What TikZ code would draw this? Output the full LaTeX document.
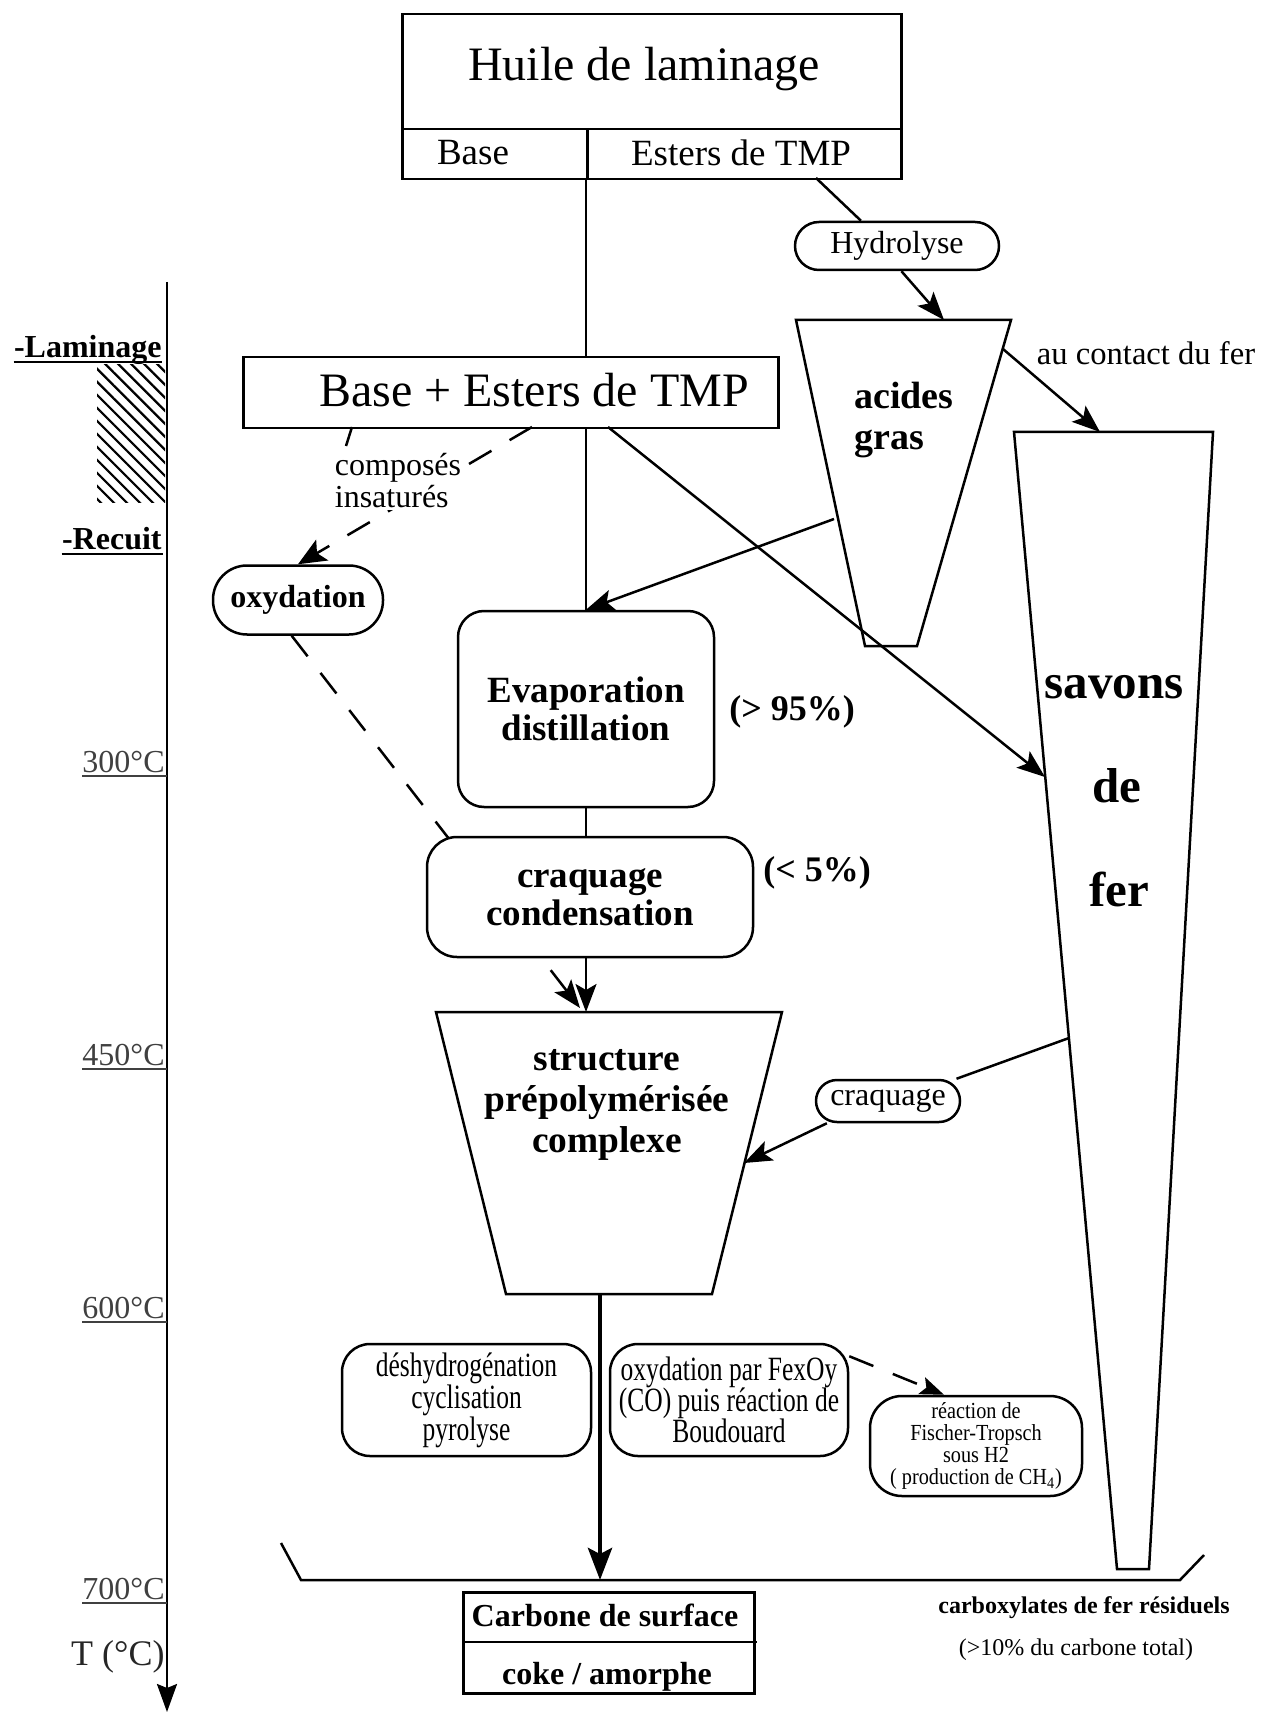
\documentclass[tikz,border=0pt]{standalone}
\usepackage{fontspec}
\setmainfont{Liberation Serif}
\newfontfamily\condfont{Liberation Serif}[FakeStretch=0.75]
\newfontfamily\condfontb{Liberation Serif}[FakeStretch=0.88]
\usetikzlibrary{arrows.meta,calc,patterns.meta}
\newcommand{\myfs}[2]{\fontsize{#1}{#2}\selectfont}
\begin{document}
\begin{tikzpicture}[x=0.5pt,y=-0.5pt,
  ln/.style={line width=1.25pt},
  arr/.style={ln,-{Stealth[length=14pt,width=10.5pt,inset=3pt]}},
  dsh/.style={ln,dash pattern=on 13pt off 10.5pt},
  bx/.style={draw,ln,fill=white,inner sep=0pt,rectangle},
  tlab/.style={font=\myfs{16}{18},text=black!75,inner sep=0pt},
  ulab/.style={font=\bfseries\myfs{16}{18},inner sep=0pt},
  sav/.style={font=\bfseries\myfs{24.5}{26}},
  pct/.style={font=\bfseries\myfs{18}{20}}
]
\useasboundingbox (0,0) rectangle (1260,1716);

% ---------- temperature axis ----------
\coordinate (axtop) at (167,282);
\coordinate (axbot) at (167,1712);
\draw[ln,-{Stealth[length=14pt,width=10pt,inset=2pt]}] (axtop) -- (axbot);
\fill[pattern={Lines[angle=-45,distance=4.6pt,line width=1.1pt]}] (97,365) rectangle (165,503);

\node[ulab,anchor=base east] (lam) at (162,358) {-Laminage};
\draw[line width=1pt] ($(lam.base west)+(0,4)$) -- ($(lam.base east)+(0,4)$);
\node[ulab,anchor=base east] (rec) at (162,550) {-Recuit};
\draw[line width=1pt] ($(rec.base west)+(0,4)$) -- ($(rec.base east)+(1,4)$);

\node[tlab,anchor=base east] (t300) at (165,772) {300°C};
\draw[line width=1pt,black!75] ($(t300.base west)+(0,4)$) -- ($(t300.base east)+(2,4)$);
\node[tlab,anchor=base east] (t450) at (165,1065) {450°C};
\draw[line width=1pt,black!75] ($(t450.base west)+(0,4)$) -- ($(t450.base east)+(2,4)$);
\node[tlab,anchor=base east] (t600) at (165,1318) {600°C};
\draw[line width=1pt,black!75] ($(t600.base west)+(0,4)$) -- ($(t600.base east)+(2,4)$);
\node[tlab,anchor=base east] (t700) at (165,1599) {700°C};
\draw[line width=1pt,black!75] ($(t700.base west)+(0,4)$) -- ($(t700.base east)+(2,4)$);
\node[font=\myfs{18}{20},inner sep=0pt,anchor=base east,text=black!85] (tc) at (165,1665) {T (°C)};

% ---------- top box ----------
\node[bx,minimum width=249.5pt,minimum height=57.5pt,anchor=north west] (huile) at (401,13) {};
\node[font=\myfs{24}{28}] (huiletxt) at (644,69) {Huile de laminage};
\node[bx,minimum width=92.5pt,minimum height=25pt,anchor=north west] (base) at (401,128) {};
\node[font=\myfs{18.5}{20}] (basetxt) at (473,153) {Base};
\node[bx,minimum width=157pt,minimum height=25pt,anchor=north west] (esters) at (586,128) {};
\node[font=\myfs{18.5}{20}] (esterstxt) at (741,153) {Esters de TMP};

% ---------- Base + Esters ----------
\node[bx,minimum width=267.5pt,minimum height=35.5pt,anchor=north west] (be) at (242,356) {};
\node[font=\myfs{24}{28}] (betxt) at (534,390) {Base + Esters de TMP};
\draw[ln] (esters.south west) -- (esters.south west |- be.north);

% ---------- Hydrolyse ----------
\node[bx,rounded corners=12pt,minimum width=102pt,minimum height=24pt,font=\myfs{16}{18}] (hydro) at (897,246) {Hydrolyse};
\coordinate (e1) at (816,178);
\draw[ln] (e1) -- (hydro.145);

% ---------- acides gras ----------
\draw[ln,fill=white] (796,320) -- (1011,320) -- (917,646) -- (865,646) -- cycle;
\node[font=\bfseries\myfs{19}{20.5},align=left] (acides) at (904,420) {acides\\gras};
\coordinate (atop) at (944,320);
\draw[arr] (hydro.-80) -- (atop);

% ---------- savons de fer ----------
\draw[ln,fill=white] (1014,432) -- (1213,432) -- (1149,1569) -- (1117,1569) -- cycle;
\node[sav] (sav1) at (1114,687) {savons};
\node[sav] (sav2) at (1117,786) {de};
\node[sav] (sav3) at (1119,889) {fer};
\node[font=\myfs{16.3}{18}] (contact) at (1146,353) {au contact du fer};
\coordinate (ar) at (1003,349);
\coordinate (stop) at (1100,432);
\draw[arr] (ar) -- (stop);

% ---------- oxydation ----------
\node[bx,rounded corners=17pt,minimum width=85pt,minimum height=34.5pt,font=\bfseries\myfs{16}{18}] (oxyd) at (298,600) {oxydation};
\coordinate (bed) at (532,427);
\draw[dsh,-{Stealth[length=14pt,width=12pt,inset=3pt]}] (bed) -- (oxyd.north);
\node[fill=white,inner sep=1pt,align=left,font=\myfs{16}{16}] (comp) at (398,481) {composés\\insaturés};
\coordinate (sd1) at (352,427);
\coordinate (sd2) at (346,446);
\draw[ln] (sd1) -- (sd2);

% ---------- Evaporation ----------
\node[bx,rounded corners=13pt,minimum width=128pt,minimum height=98pt,font=\bfseries\myfs{18.5}{19},align=center] (evap) at (586,709) {Evaporation\\distillation};
\draw[ln] (be.south -| evap.north) -- (evap.north);
\coordinate (al) at (834,519);
\draw[arr] (al) -- (evap.north);
\node[pct] (p95) at (792,712) {(> 95\%)};

% ---------- base+esters -> savons ----------
\coordinate (bes) at (608,427);
\coordinate (svL) at (1045,777);
\draw[arr] (bes) -- (svL);

% ---------- structure ----------
\draw[ln,fill=white] (436,1012) -- (782,1012) -- (712,1294) -- (506,1294) -- cycle;
\node[font=\bfseries\myfs{18.7}{20.5},align=center] (struct) at (607,1105) {structure\\prépolymérisée\\complexe};
\coordinate (stTop) at (586,1012);
\coordinate (stL) at (580,1008);
\draw[dsh,-{Stealth[length=14pt,width=10.5pt,inset=3pt]}] (oxyd.-100) -- (stL);

% ---------- craquage condensation ----------
\node[bx,rounded corners=15pt,minimum width=163pt,minimum height=60pt,font=\bfseries\myfs{18.5}{19},align=center] (craq) at (590,897) {craquage\\condensation};
\draw[ln] (evap.south) -- (evap.south |- craq.north);
\draw[arr] (craq.south -| stTop) -- (stTop);
\node[pct] (p5) at (817,873) {(< 5\%)};

% ---------- craquage (savons) ----------
\node[bx,rounded corners=10.5pt,minimum width=72pt,minimum height=21pt,font=\myfs{16}{18}] (craqp) at (888,1101) {craquage};
\coordinate (sv1) at (1069,1038);
\draw[ln] (sv1) -- (craqp.18);
\coordinate (stR) at (744,1163);
\draw[arr] (craqp.-160) -- (stR);

% ---------- main thick arrow ----------
\coordinate (stB) at (600,1294);
\coordinate (brk) at (600,1580);
\draw[line width=2.4pt,-{Stealth[length=16pt,width=12pt,inset=3pt]}] (stB) -- (brk);

% ---------- bottom reaction boxes ----------
\node[bx,rounded corners=14pt,minimum width=124.5pt,minimum height=56pt,font=\condfont\myfs{17}{16},align=center] (desh) at (466.5,1400) {déshydrogénation\\cyclisation\\pyrolyse};
\node[bx,rounded corners=14pt,minimum width=119pt,minimum height=56pt,font=\condfont\myfs{17}{15.5},align=center] (oxfe) at (729,1400) {oxydation par FexOy\\(CO) puis réaction de\\Boudouard};
\node[bx,rounded corners=16pt,minimum width=106pt,minimum height=50pt,font=\condfontb\myfs{11.5}{11},align=center] (fischer) at (976,1446) {réaction de\\Fischer-Tropsch\\sous H2\\( production de CH\textsubscript{4})};
\draw[dsh,-{Stealth[length=12pt,width=9pt,inset=2.5pt]}] (oxfe.20) -- (fischer.122);

% ---------- bracket ----------
\coordinate (b1) at (281,1543);
\coordinate (b2) at (301,1580);
\coordinate (b3) at (1180,1580);
\coordinate (b4) at (1204,1555);
\draw[ln] (b1) -- (b2) -- (b3) -- (b4);

% ---------- carbone de surface ----------
\node[bx,minimum width=145.5pt,minimum height=50.5pt,anchor=north west] (carb) at (462,1591) {};
\coordinate (cd1) at (462,1642);
\coordinate (cd2) at (757,1642);
\draw[ln] (cd1) -- (cd2);
\node[font=\bfseries\myfs{16}{18}] (carb1) at (605,1615) {Carbone de surface};
\node[font=\bfseries\myfs{16}{18}] (carb2) at (607,1677) {coke / amorphe};

\node[font=\bfseries\myfs{12}{14}] (carbox) at (1084,1608) {carboxylates de fer résiduels};
\node[font=\myfs{12}{14}] (pcttot) at (1076,1650) {(>10\% du carbone total)};
\end{tikzpicture}
\end{document}
